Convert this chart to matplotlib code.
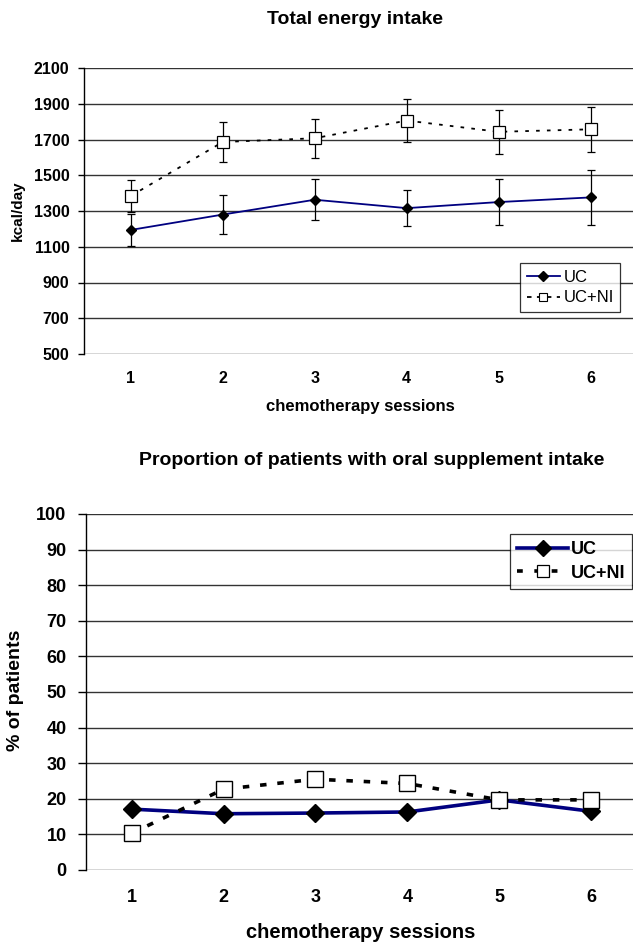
import matplotlib
matplotlib.use("Agg")
import matplotlib.pyplot as plt
from matplotlib.lines import Line2D

plt.rcParams['font.family'] = ['Liberation Sans', 'DejaVu Sans']

sessions = [1, 2, 3, 4, 5, 6]

# total energy intake (kcal/day)
uc_kcal = [1194, 1280, 1363, 1316, 1350, 1376]
uc_kcal_err = [92, 108, 114, 100, 127, 153]
ni_kcal = [1384, 1686, 1707, 1806, 1743, 1757]
ni_kcal_err = [90, 111, 110, 122, 123, 126]

# proportion with oral supplement intake (%)
uc_pct = [17.1, 15.8, 16.0, 16.3, 19.7, 16.5]
ni_pct = [10.3, 22.7, 25.5, 24.3, 19.7, 19.7]

W, H = 633, 944
fig = plt.figure(figsize=(W / 100, H / 100), dpi=100)


def px_axes(left, top, right, bottom):
    return fig.add_axes([left / W, 1 - bottom / H, (right - left) / W, (bottom - top) / H])


def style(ax):
    for s in ['top', 'right', 'bottom']:
        ax.spines[s].set_visible(False)
    ax.spines['left'].set_color('black')
    ax.spines['left'].set_linewidth(1.0)
    ax.yaxis.grid(True, color='#333333', linewidth=1.0)
    ax.set_axisbelow(True)
    ax.tick_params(axis='x', length=0)


# ---- top chart ----
ax1 = px_axes(84, 68, 633, 354)
style(ax1)
ax1.errorbar(sessions, uc_kcal, yerr=uc_kcal_err, color='#000080', lw=1.3,
             marker='D', ms=5.5, mfc='black', mec='black', ecolor='black',
             elinewidth=0.9, capsize=3, capthick=0.9, zorder=3)
ax1.errorbar(sessions, ni_kcal, yerr=ni_kcal_err, color='black', lw=1.3,
             ls=(0, (2, 4)), marker='s', ms=8, mfc='white', mec='black', mew=0.9,
             ecolor='black', elinewidth=0.9, capsize=3, capthick=0.9, zorder=3)
ax1.set_xlim(0.492, 6.46)
ax1.set_ylim(500, 2100)
ax1.set_yticks(range(500, 2101, 200))
ax1.set_xticks(sessions)
ax1.tick_params(axis='y', length=4.5, width=1, pad=6, labelsize=11.5)
ax1.tick_params(axis='x', pad=12, labelsize=11.5)
for t in ax1.get_xticklabels() + ax1.get_yticklabels():
    t.set_fontweight('bold')
h1 = [Line2D([], [], color='#000080', lw=1.3, marker='D', ms=5, mfc='black', mec='black'),
      Line2D([], [], color='black', lw=1.3, ls=(0, (2.5, 3)), marker='s', ms=6,
             mfc='white', mec='black', mew=0.8)]
leg1 = ax1.legend(h1, ['UC', 'UC+NI'], loc='upper left',
                  bbox_to_anchor=((520 - 84) / 549, 1 - (263 - 68) / 286),
                  frameon=True, fancybox=False, edgecolor='black', fontsize=12,
                  handlelength=2.0, handletextpad=0.2, borderpad=0.4,
                  labelspacing=0.35, borderaxespad=0)
leg1.get_frame().set_linewidth(0.9)
fig.text(355 / W, 1 - 19 / H, 'Total energy intake', ha='center', va='center',
         fontsize=14, fontweight='bold')
fig.text(18 / W, 1 - 211 / H, 'kcal/day', ha='center', va='center',
         rotation=90, fontsize=11, fontweight='bold')
fig.text(360 / W, 1 - 407 / H, 'chemotherapy sessions', ha='center', va='center',
         fontsize=12, fontweight='bold')

# ---- bottom chart ----
ax2 = px_axes(86, 514, 633, 870)
style(ax2)
ax2.plot(sessions, uc_pct, color='#000080', lw=2.6, marker='D', ms=9,
         mfc='black', mec='black', zorder=3)
ax2.plot(sessions, ni_pct, color='black', lw=2.6, ls=(0, (1.8, 3)), marker='s',
         ms=11, mfc='white', mec='black', mew=1.0, zorder=3)
ax2.set_xlim(0.503, 6.457)
ax2.set_ylim(0, 100)
ax2.set_yticks(range(0, 101, 10))
ax2.set_xticks(sessions)
ax2.tick_params(axis='y', length=6, width=1, pad=8, labelsize=13)
ax2.tick_params(axis='x', pad=14, labelsize=13)
for t in ax2.get_xticklabels() + ax2.get_yticklabels():
    t.set_fontweight('bold')
h2 = [Line2D([], [], color='#000080', lw=2.6, marker='D', ms=8, mfc='black', mec='black'),
      Line2D([], [], color='black', lw=2.6, ls=(0, (1.6, 3.2)), marker='s', ms=9,
             mfc='white', mec='black', mew=0.9)]
leg2 = ax2.legend(h2, ['UC', 'UC+NI'], loc='upper left',
                  bbox_to_anchor=((510 - 86) / 547, 1 - (534 - 514) / 356),
                  frameon=True, fancybox=False, edgecolor='black',
                  prop={'weight': 'bold', 'size': 13},
                  handlelength=2.8, handletextpad=0.15, borderpad=0.4,
                  labelspacing=0.35, borderaxespad=0)
leg2.get_frame().set_linewidth(0.9)
fig.text(372 / W, 1 - 460 / H, 'Proportion of patients with oral supplement intake',
         ha='center', va='center', fontsize=14, fontweight='bold')
fig.text(16 / W, 1 - 690 / H, '% of patients', ha='center', va='center',
         rotation=90, fontsize=14, fontweight='bold')
fig.text(361 / W, 1 - 933 / H, 'chemotherapy sessions', ha='center', va='center',
         fontsize=14.5, fontweight='bold')

fig.savefig('out.png', dpi=100)
